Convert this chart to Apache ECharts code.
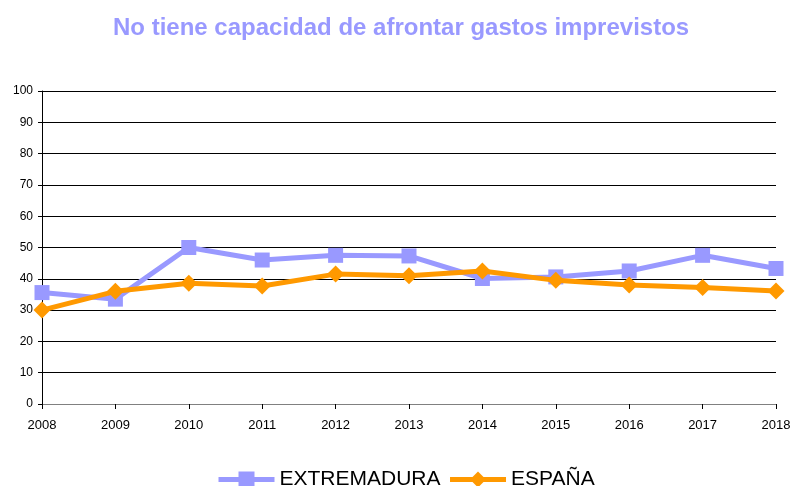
<!DOCTYPE html>
<html>
<head>
<meta charset="utf-8">
<script src="https://cdn.jsdelivr.net/npm/echarts@6/dist/echarts.min.js"></script>
<style>
  html, body { margin: 0; padding: 0; background: #fff; }
  #chart { width: 794px; height: 486px; }
</style>
</head>
<body>
<div id="chart"></div>
<script>
const years = ['2008', '2009', '2010', '2011', '2012', '2013', '2014', '2015', '2016', '2017', '2018'];
const extremadura = [35.6, 33.5, 50.0, 46.0, 47.5, 47.3, 40.1, 40.6, 42.5, 47.5, 43.3];
const espana = [30.0, 36.0, 38.6, 37.7, 41.5, 41.0, 42.5, 39.5, 38.0, 37.2, 36.1];

const font = '"Liberation Sans", Arial, sans-serif';

const chart = echarts.init(document.getElementById('chart'));

chart.setOption({
  animation: false,
  backgroundColor: '#ffffff',
  title: {
    text: 'No tiene capacidad de afrontar gastos imprevistos',
    left: 108,
    top: 11,
    textStyle: { fontSize: 24, fontWeight: 'bold', color: '#9999ff', fontFamily: font }
  },
  grid: { left: 42, right: 18, top: 91, bottom: 82 },
  legend: {
    top: 464,
    left: 211,
    itemWidth: 56,
    itemHeight: 20,
    itemGap: 7,
    lineStyle: { width: 5 },
    textStyle: { fontSize: 21, color: '#000', fontFamily: font },
    data: ['EXTREMADURA', 'ESPAÑA']
  },
  xAxis: {
    type: 'category',
    data: years,
    boundaryGap: false,
    axisLine: { lineStyle: { color: '#808080', width: 1 } },
    axisTick: { show: true, length: 5, lineStyle: { color: '#000' } },
    axisLabel: { fontSize: 13, color: '#000', fontFamily: font, margin: 15 }
  },
  yAxis: {
    type: 'value',
    min: 0,
    max: 100,
    interval: 10,
    axisLine: { show: true, lineStyle: { color: '#000', width: 1 } },
    axisTick: { show: true, length: 4, inside: false, lineStyle: { color: '#000' } },
    axisLabel: { fontSize: 12, color: '#000', fontFamily: font, margin: 9 },
    splitLine: { lineStyle: { color: '#000', width: 1 } }
  },
  series: [
    {
      name: 'EXTREMADURA',
      type: 'line',
      data: extremadura,
      symbol: 'rect',
      symbolSize: 15,
      lineStyle: { width: 5, color: '#9999ff' },
      itemStyle: { color: '#9999ff' },
      z: 2
    },
    {
      name: 'ESPAÑA',
      type: 'line',
      data: espana,
      symbol: 'diamond',
      symbolSize: 17,
      lineStyle: { width: 5, color: '#ff9900' },
      itemStyle: { color: '#ff9900' },
      z: 3
    }
  ]
});
</script>
</body>
</html>
